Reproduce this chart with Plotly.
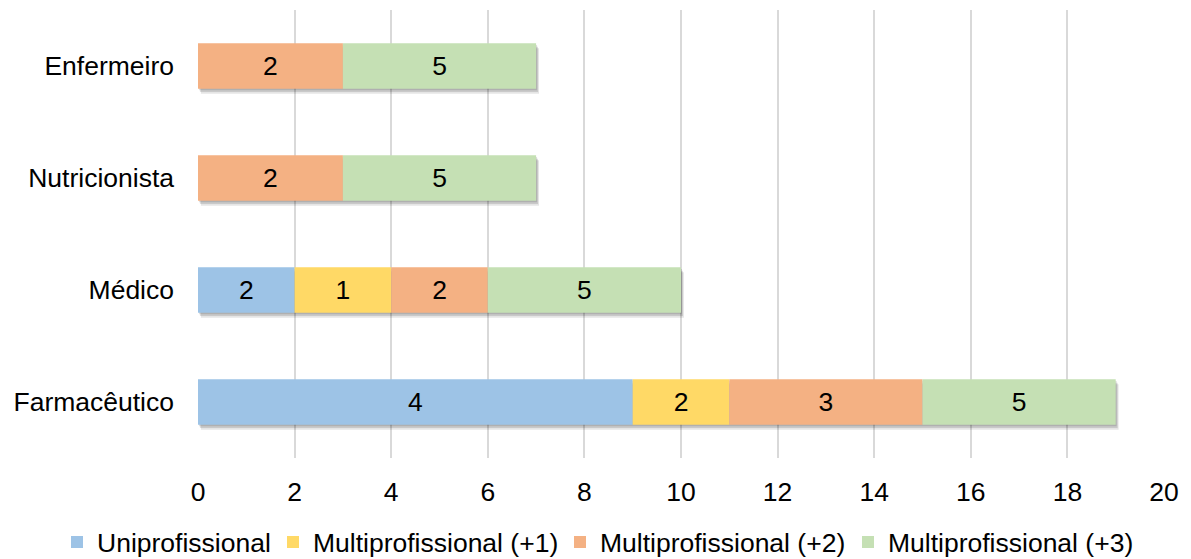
import plotly.graph_objects as go

categories = ["Farmacêutico", "Médico", "Nutricionista", "Enfermeiro"]
series_names = ["Uniprofissional", "Multiprofissional (+1)", "Multiprofissional (+2)", "Multiprofissional (+3)"]
# bar lengths as drawn
uni_len = [9, 2, 0, 0]
m1_len = [2, 2, 0, 0]
m2_len = [4, 2, 3, 3]
m3_len = [4, 4, 4, 4]
# labels shown inside the bars
uni_lbl = ["4", "2", "", ""]
m1_lbl = ["2", "1", "", ""]
m2_lbl = ["3", "2", "2", "2"]
m3_lbl = ["5", "5", "5", "5"]
colors = ["#9DC3E6", "#FFD966", "#F4B183", "#C5E0B4"]
x_ticks = list(range(0, 21, 2))

FONT = "Liberation Sans, Arial, sans-serif"
FS = 26.5
BAR_W = 0.405
LEGEND_X = [57, 273, 560, 848]  # left pixel of each legend entry

series = [uni_len, m1_len, m2_len, m3_len]
labels = [uni_lbl, m1_lbl, m2_lbl, m3_lbl]
totals = [sum(v) for v in zip(*series)]

fig = go.Figure()

# soft drop shadow under each stacked bar
for dy, dx, alpha in [(0.045, 0.06, 0.10), (0.03, 0.04, 0.12), (0.015, 0.02, 0.12)]:
    fig.add_trace(go.Bar(
        y=categories, x=totals, base=dx, orientation="h",
        width=BAR_W, offset=-BAR_W / 2 - dy,
        marker=dict(color=f"rgba(0,0,0,{alpha})", line=dict(width=0)),
        showlegend=False, hoverinfo="skip",
    ))

running = [0] * len(categories)
legend_ids = ["legend", "legend2", "legend3", "legend4"]
for name, vals, lbls, col, lid in zip(series_names, series, labels, colors, legend_ids):
    fig.add_trace(go.Bar(
        y=categories, x=[v if v else None for v in vals], base=list(running),
        name=name, orientation="h", legend=lid,
        width=BAR_W, offset=-BAR_W / 2,
        marker=dict(color=col, line=dict(width=0)),
        text=lbls, texttemplate="%{text}", textposition="inside",
        insidetextanchor="middle", constraintext="none",
        textfont=dict(family=FONT, size=FS, color="#000000"),
        hoverinfo="skip",
    ))
    running = [r + v for r, v in zip(running, vals)]

legend_common = dict(orientation="h", xref="container", yref="container",
                     xanchor="left", y=0.030, yanchor="middle",
                     font=dict(size=FS, color="#000000", family=FONT),
                     itemwidth=30, bgcolor="rgba(0,0,0,0)")

fig.update_layout(
    barmode="overlay",
    width=1191, height=559,
    margin=dict(l=198, r=27, t=10, b=101, autoexpand=False),
    paper_bgcolor="white", plot_bgcolor="white",
    font=dict(family=FONT, size=FS, color="#000000"),
    xaxis=dict(range=[0, 20], tickvals=x_ticks, showgrid=True, gridcolor="#D9D9D9",
               gridwidth=1.5, zeroline=False, showline=False, ticks="",
               tickfont=dict(size=FS, color="#000000"), ticklabelstandoff=15),
    yaxis=dict(categoryorder="array", categoryarray=categories, range=[-0.5, 3.5],
               showgrid=False, zeroline=False, showline=False, ticks="",
               tickfont=dict(size=FS, color="#000000"), ticklabelstandoff=23),
    legend=dict(x=LEGEND_X[0] / 1191, **legend_common),
    legend2=dict(x=LEGEND_X[1] / 1191, **legend_common),
    legend3=dict(x=LEGEND_X[2] / 1191, **legend_common),
    legend4=dict(x=LEGEND_X[3] / 1191, **legend_common),
    showlegend=True,
)

fig.write_html("out.html")
